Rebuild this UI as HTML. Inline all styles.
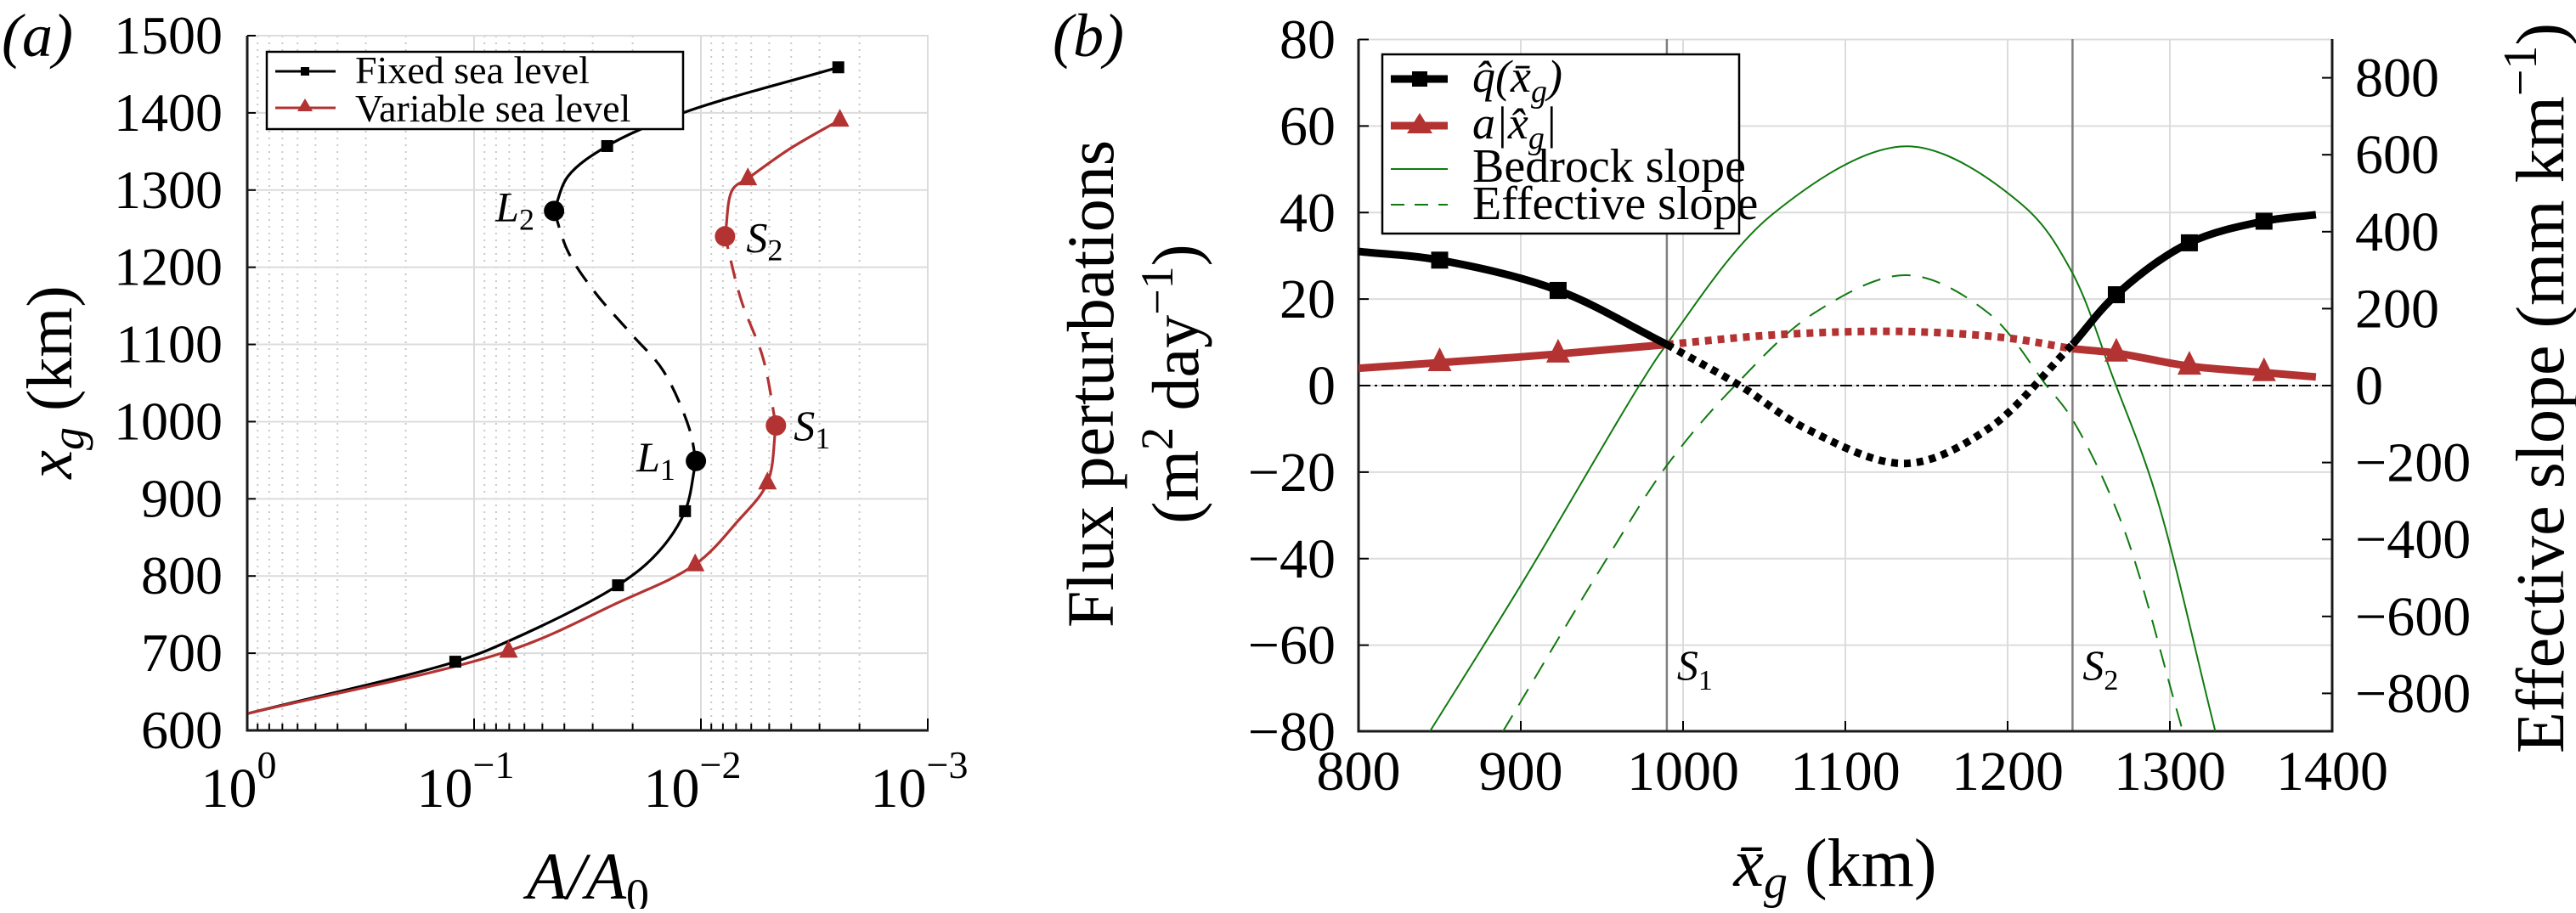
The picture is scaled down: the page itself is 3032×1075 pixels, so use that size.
<!DOCTYPE html>
<html><head><meta charset="utf-8"><style>
html,body{margin:0;padding:0;background:#fff;}
svg, svg text{font-family:"Liberation Serif","Times New Roman",serif;}
</style></head><body>
<svg id="fig" width="3032" height="1070" viewBox="0 0 3032 1070" xmlns="http://www.w3.org/2000/svg" font-family="Liberation Serif, serif">
<g id="pa"></g>
<g id="pb"></g>
</svg>
<script>
// ---------- Panel (a) data ----------
const fixedA = [0.99,0.121,0.0713,0.0232,0.0153,0.01175,0.01052,0.01125,0.01466,0.0199,0.0296,0.0385,0.0444,0.0385,0.0259,0.01227,0.00248];
const fixedX = [622,689,715,788,832,884,949,991,1066,1111,1169,1220,1273,1318,1357,1399,1459];
const varA = [0.99,0.0705,0.0238,0.0106,0.00693,0.00509,0.00467,0.00532,0.00664,0.00783,0.00724,0.00621,0.00408,0.00244];
const varX = [622,703,764,815,870,921,995,1082,1157,1240,1301,1315,1353,1391];
const aYTicks = [600,700,800,900,1000,1100,1200,1300,1400,1500];
const aXDecades = [0,1,2,3];
// ---------- Panel (b) data ----------
const qKm = [800,850,923,990,1035,1076,1137,1188,1240,1267,1312,1358,1390];
const qVal = [31,29,22,9.5,0,-10,-18,-10,9.5,21,33,38,39.5];
const rKm = [800,850,923,990,1060,1137,1200,1240,1267,1312,1358,1390];
const rVal = [4,5.3,7.3,9.5,11.8,12.5,11,8.5,7.5,4.5,3,2];
const bedKm = [844,902,973,991,1055,1138,1209,1239,1265,1291,1328];
const bedVal = [-899,-505,0,114,445,622,470,300,20,-279,-899];
const effKm = [889,953,991,1032,1081,1138,1188,1224,1239,1270,1308];
const effVal = [-899,-450,-202,0,189,287,189,0,-82,-354,-899];
const bXTicks = [800,900,1000,1100,1200,1300,1400];
const bYTicks = [80,60,40,20,0,-20,-40,-60,-80];
const bRTicks = [800,600,400,200,0,-200,-400,-600,-800];
const sKm = [990,1240];

const NS="http://www.w3.org/2000/svg";
function el(parent,tag,attrs,txt){const e=document.createElementNS(NS,tag);for(const k in attrs)e.setAttribute(k,attrs[k]);if(txt!==undefined)e.textContent=txt;parent.appendChild(e);return e;}
function smooth(p){
  if(p.length<2)return "";
  let d="M"+p[0][0].toFixed(1)+","+p[0][1].toFixed(1);
  const dist=(a,b)=>Math.hypot(a[0]-b[0],a[1]-b[1]);
  for(let i=0;i<p.length-1;i++){
    const p1=p[i],p2=p[i+1];
    const p0=i>0?p[i-1]:null, p3=i+2<p.length?p[i+2]:null;
    const L12=dist(p1,p2), d2=Math.sqrt(L12);
    let c1,c2;
    if(p0){const L01=dist(p0,p1),d1=Math.sqrt(L01);
      c1=[0,1].map(k=>(L01*p2[k]-L12*p0[k]+(2*L01+3*d1*d2+L12)*p1[k])/(3*d1*(d1+d2)));}
    else c1=[p1[0]+(p2[0]-p1[0])/3,p1[1]+(p2[1]-p1[1])/3];
    if(p3){const L23=dist(p2,p3),d3=Math.sqrt(L23);
      c2=[0,1].map(k=>(L23*p1[k]-L12*p3[k]+(2*L23+3*d3*d2+L12)*p2[k])/(3*d3*(d3+d2)));}
    else c2=[p2[0]-(p2[0]-p1[0])/3,p2[1]-(p2[1]-p1[1])/3];
    d+="C"+c1[0].toFixed(1)+","+c1[1].toFixed(1)+" "+c2[0].toFixed(1)+","+c2[1].toFixed(1)+" "+p2[0].toFixed(1)+","+p2[1].toFixed(1);
  }
  return d;
}
const RED="#b33333", GREEN="#0f7a0f";

// ===== Panel A =====
(function(){
const g=document.getElementById('pa');
const L=291,T=42,B=860,R=1093;
const xA=a=>L+(-Math.log10(a))*267;
const yA=v=>B-(v-600)*(B-T)/900;
for(let dec=0;dec<3;dec++){for(let m=2;m<=9;m++){const xx=L+(dec+(1-Math.log10(m)))*267;
  const ln=el(g,'line',{x1:xx,y1:T,x2:xx,y2:B,stroke:'#c8c8c8','stroke-width':2,'stroke-dasharray':'2,6'});
  
  
  const tk=el(g,'line',{x1:xx,y1:B,x2:xx,y2:B-8,stroke:'#000','stroke-width':2});
  
  
}}
aYTicks.forEach(v=>{const y=yA(v);
  const ln=el(g,'line',{x1:L,y1:y,x2:R,y2:y,stroke:'#dcdcdc','stroke-width':2});
  
  
  el(g,'line',{x1:L,y1:y,x2:L+10,y2:y,stroke:'#000','stroke-width':2});
  const t=el(g,'text',{x:262,y:y+21,'font-size':64,'text-anchor':'end'},String(v));
  
  
});
aXDecades.forEach(d=>{const x=L+d*267;
  const ln=el(g,'line',{x1:x,y1:T,x2:x,y2:B,stroke:'#dcdcdc','stroke-width':2});
  
  
  el(g,'line',{x1:x,y1:B,x2:x,y2:B-14,stroke:'#000','stroke-width':2});
  const t=el(g,'text',{x:x-10,y:950,'font-size':66,'text-anchor':'middle'});
  
  
  el(t,'tspan',{},'10');
  el(t,'tspan',{dy:-34,'font-size':46},(d===0?'0':'\u2212'+d));
});
const ax=el(g,'path',{d:`M${L},${T}V${B}H${R}`,fill:'none',stroke:'#1a1a1a','stroke-width':3});


function seg(A,X,i0,i1,color,dash,name){const pts=[];for(let i=i0;i<=i1;i++)pts.push([xA(A[i]),yA(X[i])]);
  const p=el(g,'path',{d:smooth(pts),fill:'none',stroke:color,'stroke-width':3.2});if(dash)p.setAttribute('stroke-dasharray',dash);
  
  }
seg(fixedA,fixedX,0,6,'#000',null,'fixed-stable-lower');
seg(fixedA,fixedX,6,12,'#000','22,14','fixed-unstable');
seg(fixedA,fixedX,12,16,'#000',null,'fixed-stable-upper');
seg(varA,varX,0,6,RED,null,'variable-stable-lower');
seg(varA,varX,6,9,RED,'22,14','variable-unstable');
seg(varA,varX,9,13,RED,null,'variable-stable-upper');
[1,3,5,14,16].forEach(i=>{const r=el(g,'rect',{x:xA(fixedA[i])-7,y:yA(fixedX[i])-7,width:14,height:14,fill:'#000'});
  
  });
[1,3,5,11,13].forEach(i=>{const x=xA(varA[i]),y=yA(varX[i]);const p=el(g,'polygon',{points:`${x},${y-13} ${x-11},${y+8} ${x+11},${y+8}`,fill:RED});
  
  });
[[fixedA,fixedX,6,'#000','L','1',-70,12],[fixedA,fixedX,12,'#000','L','2',-69,12],[varA,varX,6,RED,'S','1',21,17],[varA,varX,9,RED,'S','2',25,18]].forEach(c=>{
  const x=xA(c[0][c[2]]),y=yA(c[1][c[2]]);
  const ci=el(g,'circle',{cx:x,cy:y,r:12,fill:c[3]});
  
  
  const t=el(g,'text',{x:x+c[6],y:y+c[7],'font-size':50,'font-style':'italic'});
  
  
  el(t,'tspan',{},c[4]);el(t,'tspan',{dy:10,'font-size':36,'font-style':'normal'},c[5]);
});
const lg=el(g,'g',{});


el(lg,'rect',{x:314,y:61,width:490,height:91,fill:'#fff',stroke:'#000','stroke-width':2.5});
el(lg,'line',{x1:324,y1:84,x2:395,y2:84,stroke:'#000','stroke-width':3});
el(lg,'rect',{x:354,y:79,width:10,height:10,fill:'#000'});
el(lg,'line',{x1:324,y1:127,x2:395,y2:127,stroke:RED,'stroke-width':3});
el(lg,'polygon',{points:'359,116 350,131 368,131',fill:RED});
const t1=el(lg,'text',{x:418,y:98,'font-size':46},'Fixed sea level');


const t2=el(lg,'text',{x:418,y:143,'font-size':46},'Variable sea level');


const pl=el(g,'text',{x:2,y:66,'font-size':72,'font-style':'italic'},'(a)');


const yt=el(g,'text',{transform:'translate(84,450) rotate(-90)','font-size':76,'text-anchor':'middle'});


el(yt,'tspan',{'font-style':'italic'},'x');el(yt,'tspan',{dy:14,'font-size':54,'font-style':'italic'},'g');el(yt,'tspan',{dy:-14},' (km)');
const xt=el(g,'text',{x:692,y:1058,'font-size':78,'text-anchor':'middle','font-style':'italic'});


el(xt,'tspan',{},'A/A');el(xt,'tspan',{dy:14,'font-size':54,'font-style':'normal'},'0');
})();

// ===== Panel B =====
(function(){
const g=document.getElementById('pb');
const L=1599,R=2745,T=46,B=861;
const xB=k=>L+(k-800)*(R-L)/600;
const yB=v=>454-v*(B-T)/160;
const yR=s=>454-s*0.453;
bXTicks.forEach(k=>{const x=xB(k);
  const ln=el(g,'line',{x1:x,y1:T,x2:x,y2:B,stroke:'#dcdcdc','stroke-width':2});
  
  
  el(g,'line',{x1:x,y1:B,x2:x,y2:B-12,stroke:'#000','stroke-width':2});
  const t=el(g,'text',{x:x,y:930,'font-size':66,'text-anchor':'middle'},String(k));
  
  
});
bYTicks.forEach(v=>{const y=yB(v);
  const ln=el(g,'line',{x1:L,y1:y,x2:R,y2:y,stroke:'#dcdcdc','stroke-width':2});
  
  
  el(g,'line',{x1:L,y1:y,x2:L+12,y2:y,stroke:'#000','stroke-width':2});
  const t=el(g,'text',{x:1572,y:y+22,'font-size':66,'text-anchor':'end'},(v<0?'\u2212':'')+Math.abs(v));
  
  
});
bRTicks.forEach(s=>{const y=yR(s);
  el(g,'line',{x1:R,y1:y,x2:R-12,y2:y,stroke:'#000','stroke-width':2});
  const t=el(g,'text',{x:2772,y:y+22,'font-size':66},(s<0?'\u2212':'')+Math.abs(s));
  
  
});
sKm.forEach((k,i)=>{const x=xB(k);
  const ln=el(g,'line',{x1:x,y1:T,x2:x,y2:B,stroke:'#808080','stroke-width':2.5});
  
  
  const t=el(g,'text',{x:x+12,y:800,'font-size':50,'font-style':'italic'});
  
  
  el(t,'tspan',{},'S');el(t,'tspan',{dy:12,'font-size':34,'font-style':'normal'},String(i+1));
});
const z=el(g,'line',{x1:L,y1:yB(0),x2:R,y2:yB(0),stroke:'#000','stroke-width':2,'stroke-dasharray':'14,5,3,5'});


const ax=el(g,'path',{d:`M${L},${T}V${B}H${R}V${T}`,fill:'none',stroke:'#1a1a1a','stroke-width':3});


const cp=el(g,'clipPath',{id:'clipb'});el(cp,'rect',{x:L,y:T,width:R-L,height:B-T});
const gc=el(g,'g',{'clip-path':'url(#clipb)'});
function line(K,V,yf,i0,i1,color,w,dash,name){const pts=[];for(let i=i0;i<=i1;i++)pts.push([xB(K[i]),yf(V[i])]);
  const p=el(gc,'path',{d:smooth(pts),fill:'none',stroke:color,'stroke-width':w});if(dash)p.setAttribute('stroke-dasharray',dash);
  
  }
line(bedKm,bedVal,yR,0,bedKm.length-1,GREEN,2,null,'bedrock-slope');
line(effKm,effVal,yR,0,effKm.length-1,GREEN,2,'22,14','effective-slope');
line(rKm,rVal,yB,0,3,RED,9,null,'a-xhat-stable-left');
line(rKm,rVal,yB,3,7,RED,9,'8,7','a-xhat-unstable');
line(rKm,rVal,yB,7,11,RED,9,null,'a-xhat-stable-right');
line(qKm,qVal,yB,0,3,'#000',9,null,'qhat-stable-left');
line(qKm,qVal,yB,3,8,'#000',9,'8,7','qhat-unstable');
line(qKm,qVal,yB,8,12,'#000',9,null,'qhat-stable-right');
[1,2,9,10,11].forEach(i=>{const r=el(g,'rect',{x:xB(qKm[i])-10,y:yB(qVal[i])-10,width:20,height:20,fill:'#000'});
  
  });
[1,2,8,9,10].forEach(i=>{const x=xB(rKm[i]),y=yB(rVal[i]);const p=el(g,'polygon',{points:`${x},${y-18} ${x-14},${y+10} ${x+14},${y+10}`,fill:RED});
  
  });
const lg=el(g,'g',{});


el(lg,'rect',{x:1627,y:64,width:420,height:211,fill:'#fff',stroke:'#000','stroke-width':2.5});
el(lg,'line',{x1:1637,y1:93,x2:1704,y2:93,stroke:'#000','stroke-width':9});
el(lg,'rect',{x:1662,y:84,width:18,height:18,fill:'#000'});
el(lg,'line',{x1:1637,y1:148,x2:1704,y2:148,stroke:RED,'stroke-width':9});
el(lg,'polygon',{points:'1671,133 1656,157 1686,157',fill:RED});
el(lg,'line',{x1:1637,y1:199,x2:1704,y2:199,stroke:GREEN,'stroke-width':2});
el(lg,'line',{x1:1637,y1:241,x2:1704,y2:241,stroke:GREEN,'stroke-width':2,'stroke-dasharray':'16,12'});
const e1=el(lg,'text',{x:1733,y:108,'font-size':54,'font-style':'italic'});


el(e1,'tspan',{},'q\u0302(x\u0304');el(e1,'tspan',{dy:12,'font-size':38},'g');el(e1,'tspan',{dy:-12},')');
const e2=el(lg,'text',{x:1733,y:163,'font-size':54,'font-style':'italic'});


el(e2,'tspan',{},'a|x\u0302');el(e2,'tspan',{dy:12,'font-size':38},'g');el(e2,'tspan',{dy:-12},'|');
const e3=el(lg,'text',{x:1733,y:214,'font-size':56},'Bedrock slope');


const e4=el(lg,'text',{x:1733,y:258,'font-size':56},'Effective slope');


const pl=el(g,'text',{x:1281,y:66,'font-size':72,'font-style':'italic','text-anchor':'middle'},'(b)');


const yt=el(g,'text',{transform:'translate(1310,452) rotate(-90)','font-size':78,'text-anchor':'middle'},'Flux perturbations');


const yt2=el(g,'text',{transform:'translate(1410,452) rotate(-90)','font-size':78,'text-anchor':'middle'});


el(yt2,'tspan',{},'(m');el(yt2,'tspan',{dy:-30,'font-size':54},'2');el(yt2,'tspan',{dy:30},' day');el(yt2,'tspan',{dy:-30,'font-size':54},'\u22121');el(yt2,'tspan',{dy:30},')');
const rt=el(g,'text',{transform:'translate(3017,457) rotate(-90)','font-size':80,'text-anchor':'middle'});


el(rt,'tspan',{},'Effective slope (mm km');el(rt,'tspan',{dy:-32,'font-size':56},'\u22121');el(rt,'tspan',{dy:32},')');
const xt=el(g,'text',{x:2160,y:1043,'font-size':80,'text-anchor':'middle'});


el(xt,'tspan',{'font-style':'italic'},'x\u0304');el(xt,'tspan',{dy:14,'font-size':56,'font-style':'italic'},'g');el(xt,'tspan',{dy:-14},' (km)');
})();
</script>
</body></html>
